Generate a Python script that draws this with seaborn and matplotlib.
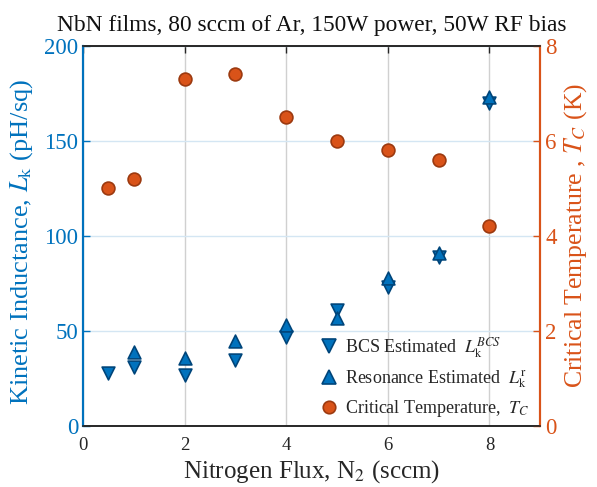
import numpy as np
import pandas as pd
import matplotlib
matplotlib.use("Agg")
import matplotlib.pyplot as plt
import seaborn as sns
from matplotlib.lines import Line2D

# Data
flux = [0.5, 1, 2, 3, 4, 5, 6, 7, 8]
lk_bcs = [28, 31, 27, 35, 47, 61, 73, 89, 170]
flux_res = [1, 2, 3, 4, 5, 6, 7, 8]
lk_res = [39, 36, 45, 53, 57, 78, 91, 173]
tc = [5.0, 5.2, 7.3, 7.4, 6.5, 6.0, 5.8, 5.6, 4.2]

x_ticks = [0, 2, 4, 6, 8]
yl_ticks = [0, 50, 100, 150, 200]
yr_ticks = [0, 2, 4, 6, 8]

title = "NbN films, 80 sccm of Ar, 150W power, 50W RF bias"

BLUE = "#0072BD"
BLUE_E = "#00457a"
ORANGE = "#D95319"
ORANGE_E = "#9c3a10"

sns.set_style("white")
plt.rcParams['font.family'] = ['Liberation Serif', 'DejaVu Serif']
plt.rcParams['mathtext.fontset'] = 'stix'

fig = plt.figure(figsize=(5.97, 4.87), dpi=100)
ax = fig.add_axes([0.139, 0.125, 0.766, 0.781])
ax2 = ax.twinx()

df_b = pd.DataFrame({"x": flux, "y": lk_bcs})
df_r = pd.DataFrame({"x": flux_res, "y": lk_res})
df_t = pd.DataFrame({"x": flux, "y": tc})

sns.scatterplot(data=df_b, x="x", y="y", ax=ax, marker="v", s=85, color=BLUE,
                edgecolor=BLUE_E, linewidth=1.2, zorder=3, legend=False)
sns.scatterplot(data=df_r, x="x", y="y", ax=ax, marker="^", s=85, color=BLUE,
                edgecolor=BLUE_E, linewidth=1.2, zorder=3, legend=False)
sns.scatterplot(data=df_t, x="x", y="y", ax=ax2, marker="o", s=85, color=ORANGE,
                edgecolor=ORANGE_E, linewidth=1.2, zorder=3, legend=False)

ax.set_xlim(0, 9)
ax.set_ylim(0, 200)
ax2.set_ylim(0, 8)
ax.set_xticks(x_ticks)
ax.set_yticks(yl_ticks)
ax2.set_yticks(yr_ticks)

ax.grid(True, axis="x", color="#d0d0d0", linewidth=1)
ax.grid(True, axis="y", color="#d4e6f3", linewidth=1)
ax.set_axisbelow(True)

ax.tick_params(axis="x", direction="in", colors="#262626", labelsize=13.5, length=5,
               top=True, width=1, pad=8)
ax.tick_params(axis="y", direction="in", colors=BLUE, labelsize=16.5, length=5, width=1)
ax2.tick_params(axis="y", direction="in", colors=ORANGE, labelsize=16.5, length=5, width=1)

for a in (ax, ax2):
    a.spines["top"].set_color("#262626")
    a.spines["bottom"].set_color("#262626")
    a.spines["left"].set_color(BLUE)
    a.spines["right"].set_color(ORANGE)
    for s in a.spines.values():
        s.set_linewidth(1.2)
    a.spines["left"].set_linewidth(1.5)
    a.spines["right"].set_linewidth(1.5)

ax.set_xlabel("Nitrogen Flux, N$_2$ (sccm)", fontsize=18, color="#262626")
ax.xaxis.set_label_coords(0.5, -0.085)
ax.set_ylabel("Kinetic Inductance, $L_\\mathrm{k}$ (pH/sq)", fontsize=19, color=BLUE)
ax.yaxis.set_label_coords(-0.104, 0.485)
ax2.set_ylabel("Critical Temperature , $T_C$ (K)", fontsize=18.5, color=ORANGE, labelpad=4)
ax.set_title(title, fontsize=16.8, color="#111111", pad=11)

handles = [
    Line2D([], [], marker="v", linestyle="none", markersize=10, markerfacecolor=BLUE,
           markeredgecolor=BLUE_E, markeredgewidth=1.2),
    Line2D([], [], marker="^", linestyle="none", markersize=10, markerfacecolor=BLUE,
           markeredgecolor=BLUE_E, markeredgewidth=1.2),
    Line2D([], [], marker="o", linestyle="none", markersize=9, markerfacecolor=ORANGE,
           markeredgecolor=ORANGE_E, markeredgewidth=1.2),
]
labels = ["BCS Estimated  $L_\\mathrm{k}^{BCS}$",
          "Resonance Estimated  $L_\\mathrm{k}^\\mathrm{r}$",
          "Critical Temperature,  $T_C$"]
leg = ax2.legend(handles, labels, loc="lower right", bbox_to_anchor=(1.0, -0.01),
                 frameon=False, fontsize=13, handletextpad=0.3, labelspacing=0.45,
                 handlelength=1.2, borderaxespad=0.2)

fig.savefig("out.png", dpi=100)
